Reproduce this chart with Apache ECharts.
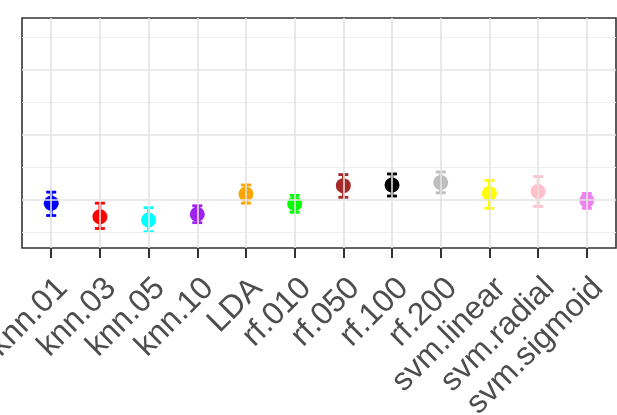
<!DOCTYPE html>
<html>
<head>
<meta charset="utf-8">
<script src="https://cdn.jsdelivr.net/npm/echarts@6/dist/echarts.min.js"></script>
<style>html,body{margin:0;padding:0;background:#fff}#c{width:617px;height:415px}</style>
</head>
<body>
<div id="c"></div>
<script>
const categories = ['knn.01','knn.03','knn.05','knn.10','LDA','rf.010','rf.050','rf.100','rf.200','svm.linear','svm.radial','svm.sigmoid'];
const means = [0.695, 0.674, 0.669, 0.678, 0.709, 0.694, 0.722, 0.723, 0.727, 0.710, 0.713, 0.699];
const lower = [0.676, 0.656, 0.651, 0.665, 0.695, 0.681, 0.704, 0.706, 0.711, 0.687, 0.690, 0.687];
const upper = [0.712, 0.695, 0.688, 0.691, 0.723, 0.707, 0.739, 0.740, 0.743, 0.730, 0.736, 0.710];
const colors = ['#0000ff','#ff0000','#00ffff','#a020f0','#ffa500','#00ff00','#a52a2a','#000000','#bebebe','#ffff00','#ffc0cb','#ee82ee'];
const majorBreaks = [0.7, 0.8, 0.9];
const minorBreaks = [0.65, 0.75, 0.85, 0.95];
const yMin = 0.626, yMax = 0.98;
const catIdx = categories.map((c, i) => i);

const chart = echarts.init(document.getElementById('c'), null, {renderer: 'canvas'});
const gridLines = []
  .concat(minorBreaks.map(v => ({yAxis: v, lineStyle: {color: '#efefef', width: 1, type: 'solid'}})))
  .concat(majorBreaks.map(v => ({yAxis: v, lineStyle: {color: '#e3e3e3', width: 1.6, type: 'solid'}})))
  .concat(catIdx.map(i => ({xAxis: i, lineStyle: {color: '#e3e3e3', width: 1.6, type: 'solid'}})));

chart.setOption({
  animation: false,
  backgroundColor: '#ffffff',
  grid: {left: 22, top: 18, width: 594, height: 230, show: true, borderColor: '#333333', borderWidth: 1.6,
         backgroundColor: 'transparent', containLabel: false, outerBoundsMode: 'none'},
  xAxis: {
    type: 'value', min: -0.6, max: 11.6,
    axisLine: {show: false},
    splitLine: {show: false},
    axisTick: {show: true, customValues: catIdx, length: 10, lineStyle: {color: '#333333', width: 2}},
    axisLabel: {show: true, customValues: catIdx, rotate: 45, margin: 24, verticalAlign: 'top', align: 'right',
      fontSize: 32, fontFamily: 'Liberation Sans, Arial, sans-serif', color: '#4d4d4d',
      formatter: v => categories[Math.round(v)]}
  },
  yAxis: {
    type: 'value', min: yMin, max: yMax,
    axisLine: {show: false}, axisTick: {show: false}, axisLabel: {show: false}, splitLine: {show: false}
  },
  series: [
    {
      type: 'line', data: [], silent: true, z: 1,
      markLine: {silent: true, symbol: ['none','none'], label: {show: false}, animation: false, data: gridLines}
    },
    {
      type: 'custom', z: 3,
      data: catIdx.map(i => [i, lower[i], upper[i]]),
      renderItem: function (params, api) {
        const x = api.value(0);
        const lo = api.coord([x, api.value(1)]);
        const hi = api.coord([x, api.value(2)]);
        const hw = 5;
        const c = colors[params.dataIndex];
        const st = {stroke: c, lineWidth: 2.8, opacity: 1};
        return {type: 'group', children: [
          {type: 'line', shape: {x1: lo[0], y1: lo[1], x2: hi[0], y2: hi[1]}, style: st},
          {type: 'line', shape: {x1: lo[0]-hw, y1: lo[1], x2: lo[0]+hw, y2: lo[1]}, style: st},
          {type: 'line', shape: {x1: hi[0]-hw, y1: hi[1], x2: hi[0]+hw, y2: hi[1]}, style: st}
        ]};
      }
    },
    {
      type: 'scatter', z: 4, symbol: 'circle', symbolSize: 15,
      itemStyle: {opacity: 1},
      data: catIdx.map(i => ({value: [i, means[i]], itemStyle: {color: colors[i], opacity: 1}}))
    }
  ]
});
</script>
</body>
</html>
